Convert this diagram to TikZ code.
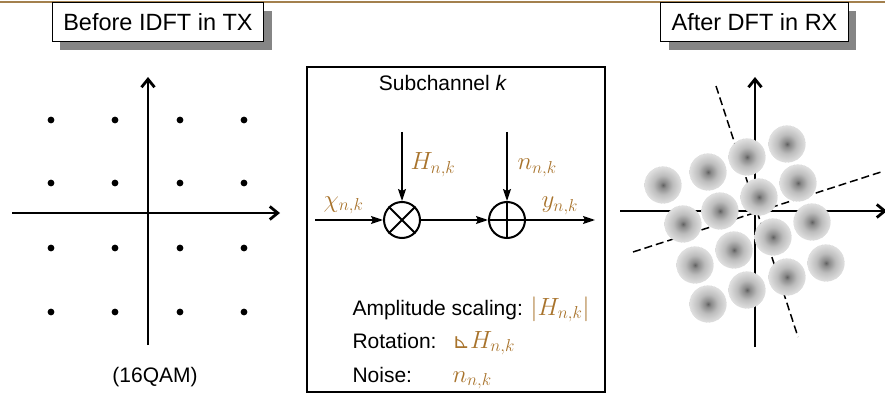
\documentclass[tikz,border=0pt]{standalone}
\usepackage{fontspec}
\setmainfont{Liberation Sans}
\newfontfamily\symfont{DejaVu Sans}
\usetikzlibrary{arrows.meta,shadows}
\definecolor{rule}{HTML}{A3804D}
\definecolor{sym}{HTML}{A8732C}
\definecolor{ink}{HTML}{000000}
\pgfdeclareradialshading{blobshade}{\pgfpoint{0bp}{0bp}}{color(0bp)=(black!62); color(4bp)=(black!46); color(13bp)=(black!26); color(25bp)=(black!12); color(50bp)=(black!12)}

\begin{document}
\begin{tikzpicture}[x=1pt, y=1pt, ink,
  txt/.style={font=\fontsize{21}{25}\selectfont},
  mlab/.style={text=sym, font=\fontsize{24}{28}\selectfont},
  title/.style={draw, line width=1pt, fill=white, minimum height=39, inner xsep=11,
                font=\fontsize{23.5}{28}\selectfont,
                drop shadow={shadow xshift=8pt, shadow yshift=-8pt, fill=black!48, opacity=1}},
  axis/.style={line width=2.8pt, -{Straight Barb[length=8pt,width=13pt]}},
  flow/.style={line width=1.6pt, -{Stealth[length=12pt,width=8pt,inset=2pt]}},
  op/.style={circle, draw, line width=2pt, minimum size=36, inner sep=0},
  blob/.style={circle, minimum size=37, inner sep=0, shading=blobshade,
               draw=black!18, densely dotted, line width=0.4pt}]
\useasboundingbox (0,0) rectangle (885,394);

% top rule
\draw[rule, line width=1.3pt] (0,392) -- (885,392);

% transmitter constellation
\node[title] (before) at (158,371.5) {Before IDFT in TX};
\draw[axis] (12,181) -- (280,181);
\draw[axis] (148,49) -- (148,317);
\foreach \x in {51,115,180,244}
  \foreach \y in {274,211,146,82}
    \fill (\x,\y) circle (3.4);
\node[txt, anchor=base] (qam) at (155,12) {(16QAM)};

% subchannel
\draw[line width=2pt] (307,2) rectangle (605,327);
\node[txt, anchor=base] (sub) at (443,303) {Subchannel \textit{k}};
\coordinate (in) at (315,174);
\coordinate (out) at (595,174);
\coordinate (hin) at (402,262);
\coordinate (nin) at (507,262);
\node[op] (mult) at (402,174) {};
\node[op] (add) at (507,174) {};
\draw[line width=2pt] (mult.north west) -- (mult.south east)
                      (mult.north east) -- (mult.south west);
\draw[line width=2pt] (add.north) -- (add.south) (add.west) -- (add.east);
\draw[flow] (in) -- (mult);
\draw[flow] (mult) -- (add);
\draw[flow] (add) -- (out);
\draw[flow] (hin) -- (mult);
\draw[flow] (nin) -- (add);
\node[mlab, anchor=base west] (xlab) at (320,187) {$\chi_{n,k}$};
\node[mlab, anchor=base west] (hlab) at (407,224) {$H_{n,k}$};
\node[mlab, anchor=base west] (nlab) at (514,224) {$n_{n,k}$};
\node[mlab, anchor=base west] (ylab) at (538,186) {$y_{n,k}$};

% effects
\node[txt, anchor=base west] (amp) at (349,79) {Amplitude scaling: \textcolor{sym}{\fontsize{24}{28}\selectfont$\left|H_{n,k}\right|$}};
\node[txt, anchor=base west] (rot) at (349,46) {Rotation:};
\node[mlab, anchor=base west] (rotv) at (449,46) {{\symfont\fontsize{21}{24}\selectfont ⊾}$H_{n,k}$};
\node[txt, anchor=base west] (noi) at (349,12) {Noise:};
\node[mlab, anchor=base west] (noiv) at (449,12) {$n_{n,k}$};

% receiver constellation
\node[title] (after) at (754.5,371.5) {After DFT in RX};
\draw[axis] (620,183) -- (887,183);
\draw[axis] (755,47) -- (755,317);
\draw[line width=1.5pt, dash pattern=on 8pt off 4pt] (716,308) -- (798,57);
\draw[line width=1.5pt, dash pattern=on 8pt off 4pt] (633,142) -- (881,222);
\foreach \p [count=\i] in {(787,250),(747,237),(708,222),(663,209),
                          (798,211),(759,197),(720,183),(683,170),
                          (812,172),(773,157),(734,144),(695,129),
                          (826,131),(787,117),(747,104),(708,90)}
  \node[blob] (b\i) at \p {};

\end{tikzpicture}
\end{document}
